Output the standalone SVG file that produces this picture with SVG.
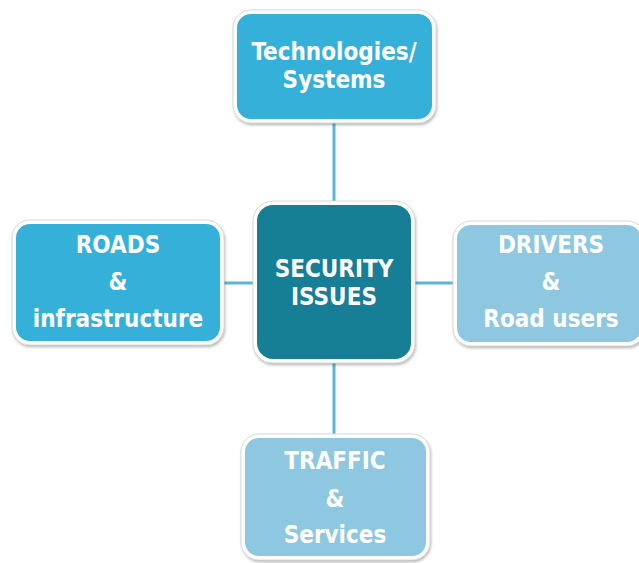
<svg xmlns="http://www.w3.org/2000/svg" width="639" height="563" viewBox="0 0 639 563">
  <defs>
    <filter id="shadow" x="-10%" y="-10%" width="125%" height="130%">
      <feDropShadow dx="1" dy="2" stdDeviation="1.5" flood-color="#000" flood-opacity="0.3"/>
    </filter>
    <style>
      .box { stroke: #ffffff; stroke-width: 4; filter: url(#shadow); }
      .edge { stroke: #d8d8d8; stroke-width: 1; fill: none; }
      .blue { fill: #35b1d9; }
      .pale { fill: #8dc8e0; }
      .dark { fill: #167e95; }
      .label { font-family: "DejaVu Sans Condensed", "DejaVu Sans", Verdana, sans-serif; font-stretch: condensed; font-weight: bold; font-size: 24px; fill: #ffffff; text-anchor: middle; }
      .link { stroke: #5bb6d4; stroke-width: 3; fill: none; }
    </style>
  </defs>
  <rect width="639" height="563" fill="#ffffff"/>

  <g id="connectors">
    <line class="link" x1="334" y1="121" x2="334" y2="203"/>
    <line class="link" x1="334" y1="361" x2="334" y2="436"/>
    <line class="link" x1="222" y1="283" x2="255" y2="283"/>
    <line class="link" x1="413" y1="283" x2="454" y2="283"/>
  </g>

  <g id="technologies">
    <rect class="box blue" x="235" y="12" width="199" height="109" rx="16"/>
    <rect class="edge" x="233" y="10" width="203" height="113" rx="18"/>
    <text class="label" x="334" y="60">Technologies/</text>
    <text class="label" x="334" y="88">Systems</text>
  </g>

  <g id="security">
    <rect class="box dark" x="255" y="203" width="158" height="158" rx="18"/>
    <rect class="edge" x="253" y="201" width="162" height="162" rx="20"/>
    <text class="label" x="334" y="277">SECURITY</text>
    <text class="label" x="334" y="305">ISSUES</text>
  </g>

  <g id="roads">
    <rect class="box blue" x="14" y="222" width="208" height="121" rx="16"/>
    <rect class="edge" x="12" y="220" width="212" height="125" rx="18"/>
    <text class="label" x="118" y="253">ROADS</text>
    <text class="label" x="118" y="290">&amp;</text>
    <text class="label" x="118" y="327">infrastructure</text>
  </g>

  <g id="drivers">
    <rect class="box pale" x="455" y="223" width="188" height="121" rx="16"/>
    <rect class="edge" x="453" y="221" width="192" height="125" rx="18"/>
    <text class="label" x="551" y="253">DRIVERS</text>
    <text class="label" x="551" y="290">&amp;</text>
    <text class="label" x="551" y="327">Road users</text>
  </g>

  <g id="traffic">
    <rect class="box pale" x="243" y="436" width="185" height="122" rx="16"/>
    <rect class="edge" x="241" y="434" width="189" height="126" rx="18"/>
    <text class="label" x="335" y="469">TRAFFIC</text>
    <text class="label" x="335" y="507">&amp;</text>
    <text class="label" x="335" y="543">Services</text>
  </g>
</svg>
